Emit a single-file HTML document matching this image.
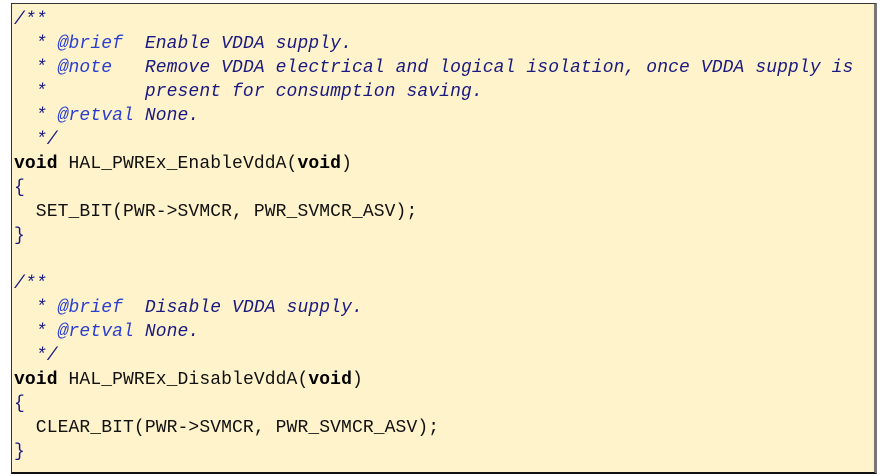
<!DOCTYPE html>
<html><head><meta charset="utf-8"><style>
html,body{margin:0;padding:0;background:#fff;width:881px;height:476px;overflow:hidden}
.box{position:absolute;left:11px;top:3px;width:862px;height:468px;background:#FFF3CC;border:1px solid #333;border-right:3px solid #777;border-bottom:2px solid #111}
pre{margin:0;position:absolute;left:2px;top:4px;font-family:"Liberation Mono",monospace;font-size:18px;line-height:24px;letter-spacing:0.1px;color:#111}
.c{color:#1a1a80;font-style:italic}
.t{color:#2a3fd0;font-style:italic}
.b{color:#1a1a80}
.k{font-weight:bold;color:#000}
</style></head><body><div class="box"><pre><span class="c">/**</span>
<span class="c">  * <span class="t">@brief</span>  Enable VDDA supply.</span>
<span class="c">  * <span class="t">@note</span>   Remove VDDA electrical and logical isolation, once VDDA supply is</span>
<span class="c">  *         present for consumption saving.</span>
<span class="c">  * <span class="t">@retval</span> None.</span>
<span class="c">  */</span>
<span class="k">void</span> HAL_PWREx_EnableVddA(<span class="k">void</span>)
<span class="b">{</span>
  SET_BIT(PWR-&gt;SVMCR, PWR_SVMCR_ASV);
<span class="b">}</span>

<span class="c">/**</span>
<span class="c">  * <span class="t">@brief</span>  Disable VDDA supply.</span>
<span class="c">  * <span class="t">@retval</span> None.</span>
<span class="c">  */</span>
<span class="k">void</span> HAL_PWREx_DisableVddA(<span class="k">void</span>)
<span class="b">{</span>
  CLEAR_BIT(PWR-&gt;SVMCR, PWR_SVMCR_ASV);
<span class="b">}</span></pre></div></body></html>
